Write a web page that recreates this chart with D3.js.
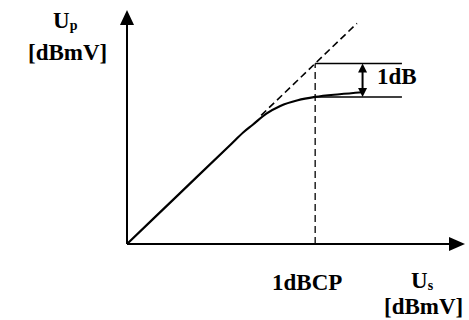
<!DOCTYPE html>
<html>
<head>
<meta charset="utf-8">
<script src="https://cdn.jsdelivr.net/npm/d3@7"></script>
<style>
  html, body { margin: 0; padding: 0; background: #fff; }
  text { font-family: "Liberation Serif", "DejaVu Serif", "Times New Roman", Times, serif; font-weight: bold; fill: #000; }
</style>
</head>
<body>
<svg id="chart" width="469" height="320"></svg>
<script>
/************************* Data *************************/
// input level Us and output level Up, in dB relative to the origin
const US_VALUES = [0, 1.5, 3.0, 3.35, 3.6, 4.0, 4.4, 4.9, 5.4, 6.1, 6.76];
const UP_VALUES = [0, 1.5, 3.0, 3.35, 3.56, 3.9, 4.13, 4.3, 4.4, 4.48, 4.54];
// ideal (uncompressed) gain line, dashed part
const IDEAL_US = [3.85, 6.6];
const CP_US = 5.4;          // 1 dB compression point
const CP_DROP = 1;          // compression, dB
const MARK_END = 7.89;      // right end of the two level lines
const ARROW_US = 6.76;      // where the 1dB arrow stands
const AXIS_MAX = {x: 9.7, y: 7};
const LABELS = {cp: "1dBCP", drop: "1dB", unit: "[dBmV]"};

/************************* Scales *************************/
const svg = d3.select("#chart");
const x = d3.scaleLinear().domain([0, AXIS_MAX.x]).range([127, 465]);
const y = d3.scaleLinear().domain([0, AXIS_MAX.y]).range([244, 10]);

/************************* Helpers *************************/
function line(g, x1, y1, x2, y2, w, dash) {
  return g.append("line")
    .attr("x1", x1).attr("y1", y1).attr("x2", x2).attr("y2", y2)
    .attr("stroke", "#000").attr("stroke-width", w)
    .attr("stroke-dasharray", dash || null);
}

// filled arrow head, tip at (tx,ty), pointing along angle (radians)
function head(g, tx, ty, angle, len, half) {
  const c = Math.cos(angle), s = Math.sin(angle);
  const bx = tx - c * len, by = ty - s * len;
  const pts = [[tx, ty], [bx - s * half, by + c * half], [bx + s * half, by - c * half]];
  g.append("path").attr("d", "M" + pts.join("L") + "Z").attr("fill", "#000");
}

/************************* Axes *************************/
const axes = svg.append("g");
line(axes, x(0), y(0), x(AXIS_MAX.x) - 14, y(0), 2);
head(axes, x(AXIS_MAX.x), y(0), 0, 16, 7);
line(axes, x(0), y(0), x(0), y(AXIS_MAX.y) + 13, 2);
head(axes, x(0), y(AXIS_MAX.y), -Math.PI / 2, 15, 7);

/************************* Marks *************************/
const marks = svg.append("g");

// ideal gain (dashed extension)
line(marks, x(IDEAL_US[0]), y(IDEAL_US[0]), x(IDEAL_US[1]), y(IDEAL_US[1]), 1.6, "7,4");

// compression point vertical
line(marks, x(CP_US), y(0), x(CP_US), y(CP_US), 1.3, "7,4");

// level lines at ideal and compressed output
line(marks, x(CP_US), y(CP_US), x(MARK_END), y(CP_US), 1.5);
line(marks, x(CP_US), y(CP_US - CP_DROP), x(MARK_END), y(CP_US - CP_DROP), 1.5);

// real transfer curve
const pts = US_VALUES.map((u, i) => [u, UP_VALUES[i]]);
marks.append("path")
  .datum(pts)
  .attr("d", d3.line().x(d => x(d[0])).y(d => y(d[1])).curve(d3.curveMonotoneX))
  .attr("fill", "none").attr("stroke", "#000").attr("stroke-width", 2.2);

// 1 dB double arrow
const ax = x(ARROW_US), aTop = y(CP_US), aBot = y(CP_US - CP_DROP);
line(marks, ax, aTop + 8, ax, aBot - 8, 2);
head(marks, ax, aTop, -Math.PI / 2, 9, 4.5);
head(marks, ax, aBot, Math.PI / 2, 9, 4.5);

/************************* Labels *************************/
const fs = 23;
function axisLabel(tx, ty, sub, unitX, unitY) {
  const t = svg.append("text").attr("x", tx).attr("y", ty).style("font-size", fs + "px");
  t.append("tspan").text("U");
  t.append("tspan").text(sub).attr("dy", 2).style("font-size", "14px");
  svg.append("text").attr("x", unitX).attr("y", unitY).style("font-size", fs + "px").text(LABELS.unit);
}
axisLabel(53, 28, "p", 28, 60);
axisLabel(411, 288, "s", 384, 314);

svg.append("text").attr("x", 272).attr("y", 290).style("font-size", fs + "px").text(LABELS.cp);
svg.append("text").attr("x", 377).attr("y", 84).style("font-size", fs + "px").text(LABELS.drop);
</script>
</body>
</html>
